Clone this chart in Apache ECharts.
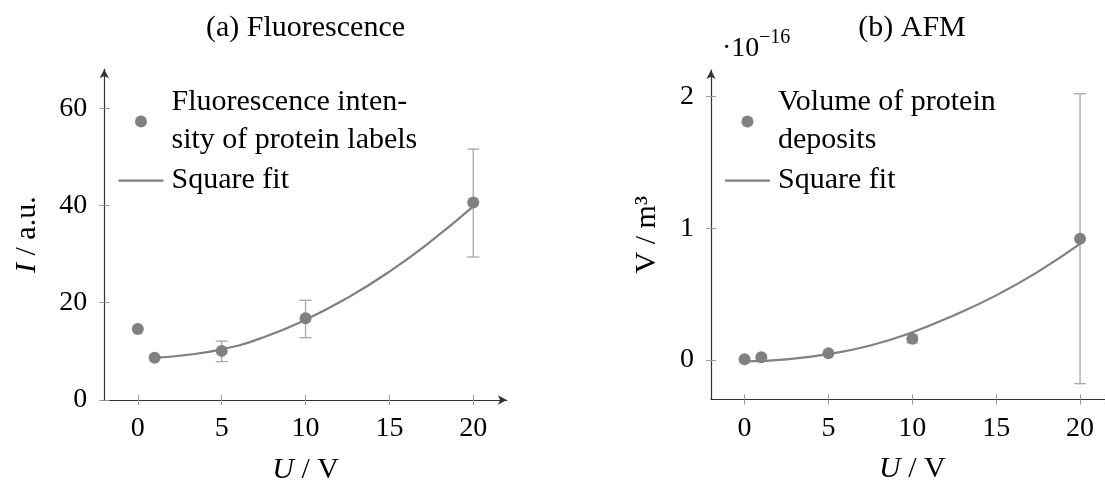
<!DOCTYPE html>
<html>
<head>
<meta charset="utf-8">
<script src="https://cdn.jsdelivr.net/npm/echarts@6/dist/echarts.min.js"></script>
<style>
  html, body { margin: 0; padding: 0; background: #fff; }
  #chart { width: 1105px; height: 482px; }
</style>
</head>
<body>
<div id="chart"></div>
<script>
// (a) fluorescence
const uA = [0, 1, 5, 10, 20];
const iA = [14.6, 8.7, 10.1, 16.8, 40.6];
const errUA = [5, 10, 20];
const errLoA = [7.9, 12.8, 29.4];
const errHiA = [12.1, 20.5, 51.6];
const fitUA = [1, 2.5, 5, 7.5, 10, 12.5, 15, 17.5, 20];
const fitIA = [8.7, 9.1, 10.4, 12.9, 16.5, 21.0, 26.4, 32.7, 39.8];

// (b) AFM, in units of 1e-16 m^3
const uB = [0, 1, 5, 10, 20];
const vB = [0.005, 0.02, 0.05, 0.16, 0.92];
const errUB = [10, 20];
const errLoB = [0.13, -0.18];
const errHiB = [0.19, 2.02];
const fitUB = [0, 2.5, 5, 7.5, 10, 12.5, 15, 17.5, 20];
const fitVB = [-0.01, 0.005, 0.045, 0.11, 0.21, 0.34, 0.49, 0.67, 0.88];

const xTicks = [0, 5, 10, 15, 20];
const yTicksA = [0, 20, 40, 60];
const yTicksB = [0, 1, 2];

const FONT = "'Liberation Serif', serif";
const GRAY = '#808080';
const ERR = '#a6a6a6';

const myChart = echarts.init(document.getElementById('chart'));

const zip = (a, b) => a.map((v, i) => [v, b[i]]);
const zip3 = (a, b, c) => a.map((v, i) => [v, b[i], c[i]]);

function errBar(params, api) {
  const x = api.value(0);
  const lo = api.coord([x, api.value(1)]);
  const hi = api.coord([x, api.value(2)]);
  const w = 6;
  const st = {stroke: ERR, lineWidth: 1.3};
  return {
    type: 'group',
    children: [
      {type: 'line', shape: {x1: lo[0], y1: lo[1], x2: hi[0], y2: hi[1]}, style: st},
      {type: 'line', shape: {x1: lo[0] - w, y1: lo[1], x2: lo[0] + w, y2: lo[1]}, style: st},
      {type: 'line', shape: {x1: hi[0] - w, y1: hi[1], x2: hi[0] + w, y2: hi[1]}, style: st}
    ]
  };
}

const richName = {i: {fontStyle: 'italic', fontFamily: FONT, fontSize: 30, color: '#000'}};

function xAxes(grid, inside) {
  return {
    type: 'value', gridIndex: grid, min: -2, max: 22, position: 'bottom',
    name: inside ? '' : '{i|U} / V', nameLocation: 'middle', nameGap: 55,
    nameTextStyle: {fontFamily: FONT, fontSize: 30, color: '#000', rich: richName},
    axisLine: {show: !inside, onZero: false, symbol: ['none', 'arrow'], symbolSize: [7, 9],
      lineStyle: {color: '#333', width: 1.2}},
    axisTick: {show: true, inside: inside, length: 5, customValues: xTicks,
      lineStyle: {color: '#999', width: 1}},
    axisLabel: {show: !inside, customValues: xTicks, margin: 15,
      fontFamily: FONT, fontSize: 28, color: '#000'},
    splitLine: {show: false}
  };
}

function yAxes(grid, inside, min, max, ticks, name, gap) {
  return {
    type: 'value', gridIndex: grid, min: min, max: max, position: 'left',
    name: inside ? '' : name, nameLocation: 'middle', nameGap: gap, nameRotate: 90,
    nameTextStyle: {fontFamily: FONT, fontSize: 30, color: '#000', rich: richName},
    axisLine: {show: !inside, onZero: false, symbol: ['none', 'arrow'], symbolSize: [7, 9],
      lineStyle: {color: '#333', width: 1.2}},
    axisTick: {show: true, inside: inside, length: 5, customValues: ticks,
      lineStyle: {color: '#999', width: 1}},
    axisLabel: {show: !inside, customValues: ticks, margin: 17,
      fontFamily: FONT, fontSize: 28, color: '#000'},
    splitLine: {show: false}
  };
}

const legendBase = {
  orient: 'vertical', padding: 0, itemWidth: 45, itemHeight: 12, itemGap: 2,
  selectedMode: false,
  textStyle: {fontFamily: FONT, fontSize: 30, lineHeight: 38, color: '#000', padding: [0, 0, 0, 3]}
};

const nameA = 'Fluorescence inten-\nsity of protein labels';
const nameB = 'Volume of protein\ndeposits';
const lineIcon = 'path://M0,0H45V2.2H0Z';

myChart.setOption({
  animation: false,
  grid: [
    {left: 104.3, top: 69.3, width: 402.5, height: 330.7, outerBoundsMode: 'none'},
    {left: 711, top: 70, width: 402.6, height: 329.5, outerBoundsMode: 'none'}
  ],
  xAxis: [xAxes(0, false), xAxes(0, true), xAxes(1, false), xAxes(1, true)],
  yAxis: [
    yAxes(0, false, 0, 68, yTicksA, '{i|I} / a.u.', 62),
    yAxes(0, true, 0, 68, yTicksA, '', 0),
    yAxes(1, false, -0.3, 2.2, yTicksB, 'V / m³', 49),
    yAxes(1, true, -0.3, 2.2, yTicksB, '', 0)
  ],
  legend: [
    Object.assign({}, legendBase, {left: 118.5, top: 83.6,
      data: [{name: nameA, icon: 'circle'}, {name: 'Square fit', icon: lineIcon}]}),
    Object.assign({}, legendBase, {left: 725, top: 83.6,
      data: [{name: nameB, icon: 'circle'}, {name: 'Square fit', icon: lineIcon}]})
  ],
  graphic: [
    {type: 'text', x: 305.5, y: 28, style: {text: '(a) Fluorescence', font: '30px ' + FONT,
      fill: '#000', textAlign: 'center', textVerticalAlign: 'middle'}},
    {type: 'text', x: 912, y: 28, style: {text: '(b) AFM', font: '30px ' + FONT,
      fill: '#000', textAlign: 'center', textVerticalAlign: 'middle'}},
    {type: 'text', x: 722, y: 49, style: {text: '·10', font: '28px ' + FONT,
      fill: '#000', textAlign: 'left', textVerticalAlign: 'middle'}},
    {type: 'text', x: 759, y: 38, style: {text: '−16', font: '20px ' + FONT,
      fill: '#000', textAlign: 'left', textVerticalAlign: 'middle'}}
  ],
  series: [
    {type: 'custom', xAxisIndex: 0, yAxisIndex: 0, renderItem: errBar, z: 1,
      encode: {x: 0, y: [1, 2]}, data: zip3(errUA, errLoA, errHiA)},
    {name: 'Square fit', type: 'line', xAxisIndex: 0, yAxisIndex: 0, smooth: true, symbol: 'none', z: 2,
      lineStyle: {color: GRAY, width: 2.2}, itemStyle: {color: GRAY}, data: zip(fitUA, fitIA)},
    {name: nameA, type: 'scatter', xAxisIndex: 0, yAxisIndex: 0, symbolSize: 12, z: 3,
      itemStyle: {color: GRAY, opacity: 1}, data: zip(uA, iA)},

    {type: 'custom', xAxisIndex: 2, yAxisIndex: 2, renderItem: errBar, z: 1,
      encode: {x: 0, y: [1, 2]}, data: zip3(errUB, errLoB, errHiB)},
    {name: 'Square fit', type: 'line', xAxisIndex: 2, yAxisIndex: 2, smooth: true, symbol: 'none', z: 2,
      lineStyle: {color: GRAY, width: 2.2}, itemStyle: {color: GRAY}, data: zip(fitUB, fitVB)},
    {name: nameB, type: 'scatter', xAxisIndex: 2, yAxisIndex: 2, symbolSize: 12, z: 3,
      itemStyle: {color: GRAY, opacity: 1}, data: zip(uB, vB)}
  ]
});
</script>
</body>
</html>
